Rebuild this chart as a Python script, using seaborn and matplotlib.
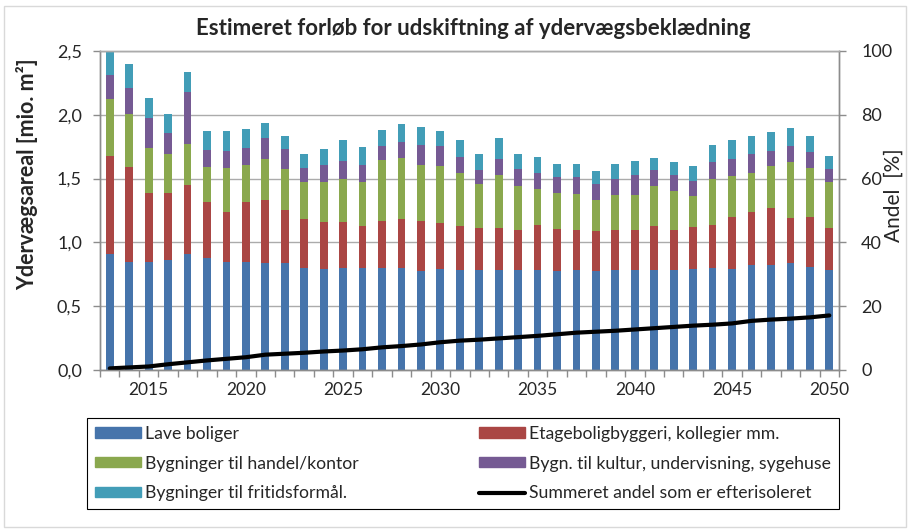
import numpy as np
import pandas as pd
import matplotlib
matplotlib.use("Agg")
import matplotlib.pyplot as plt
from matplotlib import ticker
from matplotlib.patches import Patch, Rectangle
from matplotlib.lines import Line2D
import seaborn as sns

# data
years = list(range(2013, 2051))
lave = [0.91, 0.85, 0.85, 0.865, 0.91, 0.88, 0.85, 0.85, 0.84, 0.84,
        0.80, 0.79, 0.80, 0.80, 0.80, 0.80, 0.775, 0.795, 0.785, 0.785,
        0.785, 0.785, 0.785, 0.775, 0.785, 0.775, 0.785, 0.785, 0.785, 0.785,
        0.795, 0.80, 0.795, 0.82, 0.82, 0.84, 0.81, 0.785]
etage = [0.77, 0.74, 0.54, 0.52, 0.54, 0.44, 0.39, 0.47, 0.49, 0.415,
         0.38, 0.37, 0.36, 0.325, 0.37, 0.38, 0.395, 0.36, 0.34, 0.325,
         0.325, 0.315, 0.35, 0.33, 0.315, 0.315, 0.315, 0.315, 0.34, 0.315,
         0.325, 0.335, 0.405, 0.42, 0.45, 0.35, 0.39, 0.325]
handel = [0.44, 0.42, 0.35, 0.31, 0.32, 0.27, 0.34, 0.285, 0.32, 0.32,
          0.29, 0.31, 0.34, 0.35, 0.475, 0.48, 0.44, 0.44, 0.42, 0.35,
          0.42, 0.34, 0.28, 0.28, 0.28, 0.245, 0.27, 0.275, 0.315, 0.30,
          0.24, 0.36, 0.32, 0.305, 0.33, 0.44, 0.385, 0.36]
kultur = [0.19, 0.20, 0.235, 0.16, 0.41, 0.135, 0.14, 0.135, 0.17, 0.155,
          0.11, 0.135, 0.135, 0.135, 0.11, 0.13, 0.15, 0.16, 0.125, 0.11,
          0.125, 0.135, 0.125, 0.125, 0.135, 0.125, 0.125, 0.155, 0.125, 0.13,
          0.12, 0.135, 0.13, 0.145, 0.12, 0.125, 0.125, 0.105]
fritid = [0.19, 0.19, 0.16, 0.15, 0.155, 0.15, 0.15, 0.145, 0.115, 0.105,
          0.11, 0.125, 0.165, 0.135, 0.125, 0.135, 0.145, 0.12, 0.13, 0.125,
          0.16, 0.12, 0.13, 0.105, 0.10, 0.10, 0.12, 0.105, 0.10, 0.10,
          0.12, 0.135, 0.155, 0.145, 0.145, 0.145, 0.12, 0.10]
andel = [0.5, 0.8, 1.1, 1.8, 2.4, 3.0, 3.5, 4.0, 4.8, 5.1,
         5.4, 5.8, 6.1, 6.5, 7.1, 7.5, 8.0, 8.7, 9.2, 9.5,
         9.9, 10.3, 10.7, 11.2, 11.7, 12.0, 12.3, 12.7, 13.1, 13.5,
         13.9, 14.2, 14.6, 15.4, 15.8, 16.1, 16.5, 17.1]

labels = ["Lave boliger", "Etageboligbyggeri, kollegier mm.",
          "Bygninger til handel/kontor", "Bygn. til kultur, undervisning, sygehuse",
          "Bygninger til fritidsformål."]
line_label = "Summeret andel som er efterisoleret"
colors = ["#4674AB", "#AA4644", "#8AA84E", "#755A93", "#429DB7"]

df = pd.DataFrame({"år": years, labels[0]: lave, labels[1]: etage,
                   labels[2]: handel, labels[3]: kultur, labels[4]: fritid,
                   "andel": andel})
stack = df[labels].cumsum(axis=1)

sns.set_theme(style="white")
plt.rcParams["font.family"] = ["Lato", "DejaVu Sans"]
gray = "#8c8c8c"

fig = plt.figure(figsize=(9.1, 5.3), dpi=100)
ax = fig.add_axes([0.1099, 0.3019, 0.8121, 0.6019])

# stacked bars: draw cumulative totals from the top layer down
for name, col in reversed(list(zip(labels, colors))):
    sns.barplot(x=df["år"], y=stack[name], color=col, width=0.4, native_scale=True,
                saturation=1, linewidth=0, errorbar=None, ax=ax)

ax2 = ax.twinx()
sns.lineplot(x=df["år"], y=df["andel"], color="black", lw=3, legend=False, ax=ax2)

ax.set_xlim(2012.5, 2050.5)
ax.set_ylim(0, 2.5)
ax2.set_ylim(0, 100)

ax.set_xticks(range(2015, 2051, 5))
ax.set_xticks(np.arange(2012.5, 2051, 1), minor=True)
ax.tick_params(axis="x", which="major", bottom=True, length=0, pad=9, labelsize=12.5)
ax.tick_params(axis="x", which="minor", bottom=True, length=5, width=1, color=gray, direction="out")
ax.set_yticks(np.arange(0, 2.51, 0.5))
ax.yaxis.set_major_formatter(ticker.FuncFormatter(lambda v, p: f"{v:.1f}".replace(".", ",")))
ax.tick_params(axis="y", left=True, length=5, width=1, color=gray, direction="out", pad=8, labelsize=13)
ax2.set_yticks(range(0, 101, 20))
ax2.tick_params(axis="y", right=True, length=5, width=1, color=gray, direction="out", pad=11, labelsize=13)

ax.yaxis.grid(True, color="#ababab", lw=1)
ax.xaxis.grid(False)
ax.set_axisbelow(True)
for a in (ax, ax2):
    for s in a.spines.values():
        s.set_color(gray)
        s.set_linewidth(1)
    a.spines["top"].set_color("#ababab")

ax.set_xlabel("")
ax.set_ylabel("Ydervægsareal [mio. m²]", fontsize=15.5, fontweight="bold")
ax.yaxis.set_label_coords(-0.084, 0.614)
ax2.set_ylabel("Andel  [%]", fontsize=15)
ax2.yaxis.set_label_coords(1.061, 0.549)

fig.text(0.52, 0.947, "Estimeret forløb for udskiftning af ydervægsbeklædning",
         ha="center", va="center", fontsize=16, fontweight="bold")

handles = [Patch(color=c) for c in colors] + [Line2D([], [], color="black", lw=3)]
names = labels + [line_label]
order = [0, 2, 4, 1, 3, 5]
leg = fig.legend([handles[i] for i in order], [names[i] for i in order], ncol=2,
                 loc="center", bbox_to_anchor=(0.0956, 0.0377, 0.826, 0.1755),
                 bbox_transform=fig.transFigure, mode="expand", fontsize=12.7,
                 handlelength=2.6, handleheight=0.5, handletextpad=0.23,
                 labelspacing=0.78, borderpad=0.45, borderaxespad=0,
                 fancybox=False, framealpha=1)
leg.get_frame().set_edgecolor("black")
leg.get_frame().set_linewidth(0.8)

fig.add_artist(Rectangle((0.004, 0.006), 0.992, 0.982, transform=fig.transFigure,
                         fill=False, edgecolor="#d9d9d9", lw=1))

fig.savefig("out.png", dpi=100)
